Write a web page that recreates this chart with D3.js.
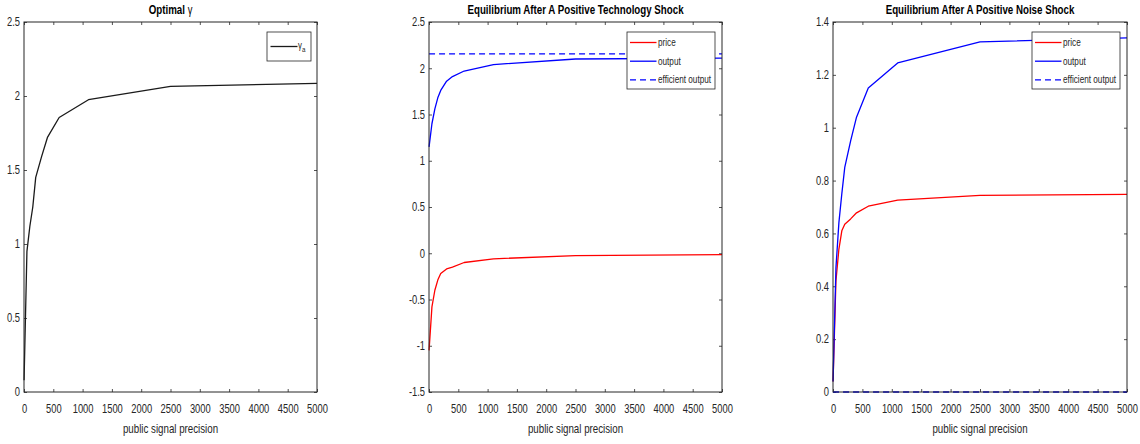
<!DOCTYPE html>
<html><head><meta charset="utf-8">
<script src="https://cdn.jsdelivr.net/npm/d3@7"></script>
<style>body{margin:0;background:#fff}svg{display:block}</style>
</head><body><svg id="c" width="1140" height="444"></svg>
<script>
// ---------- data ----------
const precision      = [1, 50, 100, 150, 200, 300, 400, 600, 1100, 2500, 5000];
const gammaA         = [0.08, 0.95, 1.12, 1.25, 1.45, 1.59, 1.72, 1.855, 1.975, 2.065, 2.085];
const techPrice      = [-1.05, -0.58, -0.40, -0.29, -0.22, -0.17, -0.15, -0.10, -0.06, -0.025, -0.015];
const techOutput     = [1.15, 1.40, 1.56, 1.68, 1.76, 1.86, 1.91, 1.97, 2.04, 2.10, 2.11];
const techEfficient  = [2.155, 2.155, 2.155, 2.155, 2.155, 2.155, 2.155, 2.155, 2.155, 2.155, 2.155];
const noisePrice     = [0.04, 0.42, 0.54, 0.61, 0.635, 0.655, 0.678, 0.703, 0.726, 0.744, 0.748];
const noiseOutput    = [0.04, 0.47, 0.64, 0.75, 0.85, 0.95, 1.04, 1.15, 1.245, 1.325, 1.34];
const noiseEfficient = [0, 0, 0, 0, 0, 0, 0, 0, 0, 0, 0];
const xTicks  = [0, 500, 1000, 1500, 2000, 2500, 3000, 3500, 4000, 4500, 5000];
const yTicks1 = [0, 0.5, 1, 1.5, 2, 2.5];
const yTicks2 = [-1.5, -1, -0.5, 0, 0.5, 1, 1.5, 2, 2.5];
const yTicks3 = [0, 0.2, 0.4, 0.6, 0.8, 1, 1.2, 1.4];
const titles = ["Optimal ", "Equilibrium After A Positive Technology Shock", "Equilibrium After A Positive Noise Shock"];
const xLabel = "public signal precision";
const legendNames = ["price", "output", "efficient output"];

// ---------- layout ----------
const svg = d3.select("#c");
const FONT = "'Liberation Sans', Arial, Helvetica, sans-serif";
const AX = "#262626";
const SX = 0.78;           // horizontal squeeze of the text
const plotTop = 22, plotBottom = 392;
const panels = [
  {x0: 24,  x1: 317,  dom: [0, 2.5],  ticks: yTicks1},
  {x0: 429, x1: 722,  dom: [-1.5, 2.5], ticks: yTicks2},
  {x0: 833, x1: 1127, dom: [0, 1.4],  ticks: yTicks3}
];
const fmt = d => String(+d.toFixed(2));

function squeeze(sel){
  sel.each(function(){
    const t = d3.select(this);
    const x = +(t.attr("x") || 0);
    t.attr("x", x / SX).attr("transform", `scale(${SX},1)`);
  });
}

function addText(g, x, y, str, opts = {}){
  const t = g.append("text")
    .attr("x", x).attr("y", y)
    .attr("font-family", FONT)
    .attr("font-size", opts.size || 12)
    .attr("font-weight", opts.weight || "normal")
    .attr("fill", opts.fill || AX)
    .attr("text-anchor", opts.anchor || "start")
    .text(str);
  squeeze(t);
  return t;
}

panels.forEach((p, i) => {
  const g = svg.append("g");
  const x = d3.scaleLinear().domain([0, 5000]).range([p.x0, p.x1]);
  const y = d3.scaleLinear().domain(p.dom).range([plotBottom, plotTop]);

  const styleAxis = sel => {
    sel.select(".domain").remove();
    sel.selectAll("line").attr("stroke", AX).attr("stroke-width", 0.8);
    sel.selectAll("text").attr("font-family", FONT).attr("font-size", 12).attr("fill", AX);
  };
  const gb = g.append("g").attr("transform", `translate(0,${plotBottom})`)
    .call(d3.axisBottom(x).tickValues(xTicks).tickSize(-3).tickPadding(12).tickFormat(d3.format("d")));
  styleAxis(gb); squeeze(gb.selectAll("text"));
  const gt = g.append("g").attr("transform", `translate(0,${plotTop})`)
    .call(d3.axisTop(x).tickValues(xTicks).tickSize(-3).tickFormat(""));
  styleAxis(gt);
  const gl = g.append("g").attr("transform", `translate(${p.x0},0)`)
    .call(d3.axisLeft(y).tickValues(p.ticks).tickSize(-3).tickPadding(4).tickFormat(fmt));
  styleAxis(gl); squeeze(gl.selectAll("text"));
  const gr = g.append("g").attr("transform", `translate(${p.x1},0)`)
    .call(d3.axisRight(y).tickValues(p.ticks).tickSize(-3).tickFormat(""));
  styleAxis(gr);

  const line = vals => d3.line().x((d, k) => x(precision[k])).y(d => y(d))(vals);
  const draw = (vals, color, dash) => g.append("path")
    .attr("d", line(vals)).attr("fill", "none").attr("stroke", color)
    .attr("stroke-width", 1.3).attr("stroke-linejoin", "round")
    .attr("stroke-dasharray", dash || null);
  if (i === 0) {
    draw(gammaA, "#1a1a1a");
  } else if (i === 1) {
    draw(techPrice, "#ff0000");
    draw(techOutput, "#0000ff");
    draw(techEfficient, "#0000ff", "6,4");
  } else {
    draw(noisePrice, "#ff0000");
    draw(noiseOutput, "#0000ff");
    draw(noiseEfficient, "#0000ff", "6,4");
  }

  g.append("rect").attr("x", p.x0).attr("y", plotTop).attr("width", p.x1 - p.x0).attr("height", plotBottom - plotTop)
    .attr("fill", "none").attr("stroke", AX).attr("stroke-width", 1);

  const cx = (p.x0 + p.x1) / 2;
  const tt = addText(g, cx, 14, titles[i], {size: 12.5, weight: "bold", fill: "#000", anchor: "middle"});
  if (i === 0) tt.append("tspan").attr("font-weight", "normal").attr("font-size", 12).text("γ");

  addText(g, cx, 433, xLabel, {size: 12.5, anchor: "middle"});

  if (i === 0) {
    const lx = p.x1 - 50, ly = 32;
    g.append("rect").attr("x", lx).attr("y", ly).attr("width", 44).attr("height", 29)
      .attr("fill", "#fff").attr("stroke", AX).attr("stroke-width", 0.8);
    g.append("line").attr("x1", lx + 3.5).attr("x2", lx + 30.5).attr("y1", ly + 14.5).attr("y2", ly + 14.5)
      .attr("stroke", "#1a1a1a").attr("stroke-width", 1.3);
    const lt = addText(g, lx + 31, ly + 17, "γ", {size: 10});
    lt.append("tspan").attr("font-size", 8).attr("dy", 3).text("a");
  } else {
    const lx = p.x1 - 95, ly = 32;
    g.append("rect").attr("x", lx).attr("y", ly).attr("width", 88).attr("height", 57)
      .attr("fill", "#fff").attr("stroke", AX).attr("stroke-width", 0.8);
    const cols = ["#ff0000", "#0000ff", "#0000ff"];
    const dashes = [null, null, "6,4"];
    legendNames.forEach((n, k) => {
      const yy = ly + 10.5 + k * 18.7;
      g.append("line").attr("x1", lx + 3).attr("x2", lx + 29.5).attr("y1", yy).attr("y2", yy)
        .attr("stroke", cols[k]).attr("stroke-width", 1.3).attr("stroke-dasharray", dashes[k]);
      addText(g, lx + 31, yy + 3.5, n, {size: 10.5});
    });
  }
});
</script></body></html>
